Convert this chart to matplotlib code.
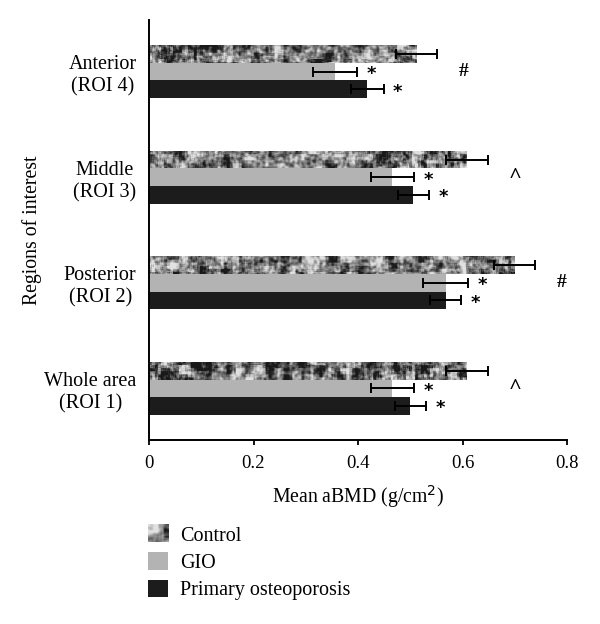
import numpy as np
import matplotlib
matplotlib.use("Agg")
import matplotlib.pyplot as plt
from matplotlib.legend_handler import HandlerBase
from matplotlib.image import BboxImage
from matplotlib.transforms import Bbox, TransformedBbox
from matplotlib.colors import Normalize

plt.rcParams['font.family'] = ['Liberation Serif', 'DejaVu Serif']

# ---- data ----
regions = ['Whole area\n(ROI 1)', 'Posterior\n(ROI 2)', 'Middle\n(ROI 3)', 'Anterior\n(ROI 4)']
series_names = ['Control', 'GIO', 'Primary osteoporosis']
control = [0.608, 0.699, 0.608, 0.512]
control_err = [0.040, 0.039, 0.040, 0.039]
gio = [0.466, 0.568, 0.466, 0.356]
gio_err = [0.042, 0.043, 0.042, 0.043]
po = [0.500, 0.568, 0.506, 0.418]
po_err = [0.030, 0.030, 0.030, 0.031]
group_marks = ['^', '#', '^', '#']
xticks = [0, 0.2, 0.4, 0.6, 0.8]

# ---- texture for the Control fill (deterministic integer-hash noise) ----
def hash_noise(n, m, seed):
    i, j = np.meshgrid(np.arange(n, dtype=np.uint32), np.arange(m, dtype=np.uint32),
                       indexing='ij')
    with np.errstate(over='ignore'):
        x = i * np.uint32(374761393) + j * np.uint32(668265263) + np.uint32(seed * 144665)
        x = (x ^ (x >> np.uint32(13))) * np.uint32(1274126177)
        x = x ^ (x >> np.uint32(16))
    return x.astype(np.float64) / 2.0 ** 32

def blur(a, k=1):
    out = np.zeros_like(a)
    c = 0
    for di in range(-k, k + 1):
        for dj in range(-k, k + 1):
            out += np.roll(np.roll(a, di, 0), dj, 1)
            c += 1
    return out / c

N = 420
coarse = blur(hash_noise(N // 3, N // 3, 11), 1)
coarse = np.kron(coarse, np.ones((3, 3)))
fine = blur(hash_noise(N, N, 7), 1)
tex = 0.65 * coarse + 0.35 * fine
tex = (tex - tex.mean()) / tex.std()
tex = np.clip(0.47 + 0.24 * tex, 0.1, 0.88)

# ---- figure ----
fig = plt.figure(figsize=(6, 6.24), dpi=100)
ax = fig.add_axes([149 / 600, 1 - 440 / 624, (567 - 149) / 600, 420 / 624])

y = np.arange(len(regions))
h = 0.166
ylim = (-0.49, 3.49)
xlim = (0, 0.8)

bars_c = ax.barh(y + h, control, height=h, color='#777777', zorder=1, linewidth=0)
bars_g = ax.barh(y, gio, height=h, color='#b3b3b3', zorder=1, linewidth=0)
bars_p = ax.barh(y - h, po, height=h, color='#1c1c1c', zorder=1, linewidth=0)

for rect in bars_c:
    im = ax.imshow(tex, extent=(xlim[0], xlim[1], ylim[0], ylim[1]), aspect='auto',
                   cmap='gray', norm=Normalize(0, 1), interpolation='bilinear', zorder=1.5)
    im.set_clip_path(rect)

ekw = dict(fmt='none', ecolor='black', elinewidth=1.4, capsize=3.3, capthick=1.4, zorder=3)
ax.errorbar(control, y + h, xerr=control_err, **ekw)
ax.errorbar(gio, y, xerr=gio_err, **ekw)
ax.errorbar(po, y - h, xerr=po_err, **ekw)

for vals, errs, off in [(gio, gio_err, 0.0), (po, po_err, -h)]:
    for yi, v, e in zip(y, vals, errs):
        ax.text(v + e + 0.018, yi + off - 0.025, '*', ha='left', va='center',
                fontsize=13, fontweight='bold', family=['DejaVu Sans'])

for yi, v, e, mk in zip(y, control, control_err, group_marks):
    ax.text(v + e + 0.052, yi, mk, ha='center', va='center',
            fontsize=16 if mk == '^' else 14, fontweight='bold')

ax.set_xlim(*xlim)
ax.set_ylim(*ylim)
ax.set_xticks(xticks, [f'{t:g}' for t in xticks])
ax.set_yticks(y, regions)
for lab in ax.get_yticklabels():
    lab.set_multialignment('center')
    lab.set_linespacing(1.25)
ax.tick_params(axis='y', length=0, pad=9, labelsize=14.5)
ax.tick_params(axis='x', direction='out', length=3.6, width=1.3, pad=7, labelsize=13.5)
for s in ['top', 'right']:
    ax.spines[s].set_visible(False)
for s in ['left', 'bottom']:
    ax.spines[s].set_linewidth(1.4)

ax.set_xlabel('Mean aBMD (g/cm$^2$)', fontsize=14.2, labelpad=8)
ax.set_ylabel('Regions of interest', fontsize=14.2)
ax.yaxis.set_label_coords(-0.255, 0.5)


class TextureHandler(HandlerBase):
    def create_artists(self, legend, orig_handle, xdescent, ydescent, width, height,
                       fontsize, trans):
        bb = Bbox.from_bounds(-xdescent, -ydescent, width, height)
        tbb = TransformedBbox(bb, trans)
        img = BboxImage(tbb, cmap='gray', norm=Normalize(0, 1), interpolation='bilinear')
        img.set_data(tex[:12, :12])
        return [img]


fig.legend([bars_c, bars_g, bars_p], series_names, loc='upper left',
           bbox_to_anchor=(148 / 600, 1 - 525 / 624), frameon=False, borderpad=0,
           borderaxespad=0, handlelength=1.0, handleheight=0.95, handletextpad=0.6,
           labelspacing=0.33, fontsize=14.5, handler_map={bars_c: TextureHandler()})

fig.savefig('out.png', dpi=100)
